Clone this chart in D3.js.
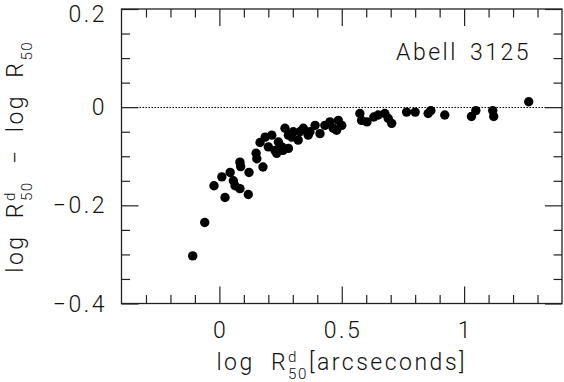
<!DOCTYPE html>
<html>
<head>
<meta charset="utf-8">
<script src="https://cdn.jsdelivr.net/npm/d3@7"></script>
<style>
  html, body { margin: 0; padding: 0; background: #fff; }
  svg { display: block; }
  text { font-family: Roboto, "Liberation Sans", sans-serif; font-weight: 300; fill: #111; }
</style>
</head>
<body>
<svg id="chart" width="564" height="382"></svg>
<script>
// ---- data ----
const logR50d = [
  -0.109, -0.060, -0.022, 0.010, 0.023, 0.044, 0.057, 0.064, 0.084, 0.118,
  0.084, 0.087, 0.121, 0.150, 0.153, 0.178, 0.166, 0.187, 0.214, 0.200,
  0.227, 0.241, 0.255, 0.282, 0.268, 0.282, 0.302, 0.322, 0.343, 0.363,
  0.391, 0.411, 0.452, 0.465, 0.486, 0.260, 0.234, 0.296, 0.370, 0.329,
  0.431, 0.479, 0.500,
  0.574, 0.581, 0.603, 0.631, 0.649, 0.676, 0.690, 0.704, 0.765, 0.800,
  0.853, 0.864, 0.921, 1.030, 1.048, 1.117, 1.121, 1.264
];
const dLogR50 = [
  -0.303, -0.235, -0.160, -0.142, -0.184, -0.133, -0.150, -0.160, -0.166, -0.178,
  -0.112, -0.121, -0.133, -0.094, -0.105, -0.122, -0.072, -0.061, -0.057, -0.081,
  -0.088, -0.071, -0.081, -0.084, -0.043, -0.057, -0.050, -0.067, -0.043, -0.057,
  -0.037, -0.054, -0.030, -0.043, -0.027, -0.088, -0.094, -0.061, -0.050, -0.050,
  -0.037, -0.047, -0.037,
  -0.013, -0.027, -0.030, -0.020, -0.016, -0.013, -0.023, -0.033, -0.010, -0.010,
  -0.013, -0.007, -0.016, -0.019, -0.007, -0.007, -0.019, 0.011
];
const xTicks = [0, 0.5, 1];
const xTickLabels = ["0", "0.5", "1"];
const yTicks = [0.2, 0, -0.2, -0.4];
const yTickLabels = ["0.2", "0", "\u22120.2", "\u22120.4"];
const xMinorTicks = [-0.3, -0.2, -0.1, 0.1, 0.2, 0.3, 0.4, 0.6, 0.7, 0.8, 0.9, 1.1, 1.2, 1.3];
const yMinorTicks = [0.15, 0.1, 0.05, -0.05, -0.1, -0.15, -0.25, -0.3, -0.35];
const clusterName = "Abell 3125";

// ---- layout ----
const L = 121.5, R = 562, T = 9, B = 303.5;
const FS = 23, LS = 2.5;
const svg = d3.select("#chart");
const x = d3.scaleLinear().domain([-0.4, 1.4]).range([L, R]);
const y = d3.scaleLinear().domain([-0.4, 0.2]).range([B, T]);

// zero reference line (dotted)
const y0 = Math.round(y(0)) + 0.5;
svg.append("line")
  .attr("x1", L).attr("x2", R).attr("y1", y0).attr("y2", y0)
  .attr("stroke", "#000").attr("stroke-width", 1).attr("stroke-dasharray", "1.5,1.5");

// ticks on all four sides, pointing inwards
function ticks(axisFn, vals, size, transform) {
  const g = svg.append("g").attr("transform", transform)
    .call(axisFn.tickValues(vals).tickSizeInner(size).tickSizeOuter(0).tickFormat(""));
  g.select(".domain").remove();
  g.selectAll(".tick line").attr("stroke", "#222").attr("stroke-width", 1.2);
}
ticks(d3.axisBottom(x), xMinorTicks, -8.5, `translate(0,${B})`);
ticks(d3.axisBottom(x), xTicks, -17, `translate(0,${B})`);
ticks(d3.axisTop(x), xMinorTicks, -8.5, `translate(0,${T})`);
ticks(d3.axisTop(x), xTicks, -17, `translate(0,${T})`);
ticks(d3.axisLeft(y), yMinorTicks, -8.5, `translate(${L},0)`);
ticks(d3.axisLeft(y), yTicks, -17, `translate(${L},0)`);
ticks(d3.axisRight(y), yMinorTicks, -8.5, `translate(${R},0)`);
ticks(d3.axisRight(y), yTicks, -17, `translate(${R},0)`);

// frame
svg.append("rect").attr("x", L).attr("y", T).attr("width", R - L).attr("height", B - T)
  .attr("fill", "none").attr("stroke", "#222").attr("stroke-width", 1.3);

// tick labels
svg.append("g").selectAll("text").data(xTicks).join("text")
  .attr("x", d => x(d) + LS / 2).attr("y", 338)
  .attr("text-anchor", "middle").attr("font-size", FS).attr("letter-spacing", LS)
  .text((d, i) => xTickLabels[i]);
svg.append("g").selectAll("text").data(yTicks).join("text")
  .attr("x", 104.5 + LS).attr("y", d => Math.max(y(d) + 8, 21.5))
  .attr("text-anchor", "end").attr("font-size", FS).attr("letter-spacing", LS)
  .text((d, i) => yTickLabels[i]);

// points
svg.append("g").selectAll("circle").data(logR50d).join("circle")
  .attr("cx", d => x(d)).attr("cy", (d, i) => y(dLogR50[i]))
  .attr("r", 4.7).attr("fill", "#000");

// cluster name
svg.append("text").attr("x", 531).attr("y", 60).attr("text-anchor", "end")
  .attr("font-size", FS).attr("letter-spacing", LS).attr("word-spacing", 4)
  .text(clusterName);

// rich label: parts are {t} or {sup, sub}
function rich(parent, parts, fs) {
  const g = parent.append("g");
  let cx = 0;
  const small = fs * 0.66;
  parts.forEach(p => {
    if (p.t !== undefined) {
      const t = g.append("text").attr("x", cx).attr("y", 0).attr("font-size", fs)
        .attr("letter-spacing", LS).attr("xml:space", "preserve").text(p.t);
      cx += t.node().getComputedTextLength();
    } else {
      const a = g.append("text").attr("x", cx).attr("y", -fs * 0.34).attr("font-size", small)
        .attr("letter-spacing", 1.5).text(p.sup || "");
      const b = g.append("text").attr("x", cx).attr("y", fs * 0.38).attr("font-size", small)
        .attr("letter-spacing", 1.5).text(p.sub || "");
      const w = Math.max(p.sup ? a.node().getComputedTextLength() : 0,
                         p.sub ? b.node().getComputedTextLength() : 0);
      cx += w + 1;
    }
  });
  return { g, width: cx };
}

// x-axis title
const xl = rich(svg, [{t: "log  R"}, {sup: "d", sub: "50"}, {t: "[arcseconds]"}], FS);
xl.g.attr("transform", `translate(${(L + R) / 2 - xl.width / 2},370)`);

// y-axis title (rotated)
const yl = rich(svg, [{t: "log  R"}, {sup: "d", sub: "50"}, {t: "  \u2212  log  R"}, {sub: "50"}], FS);
yl.g.attr("transform", `translate(23,${(T + B) / 2}) rotate(-90) translate(${-yl.width / 2},0)`);
</script>
</body>
</html>
